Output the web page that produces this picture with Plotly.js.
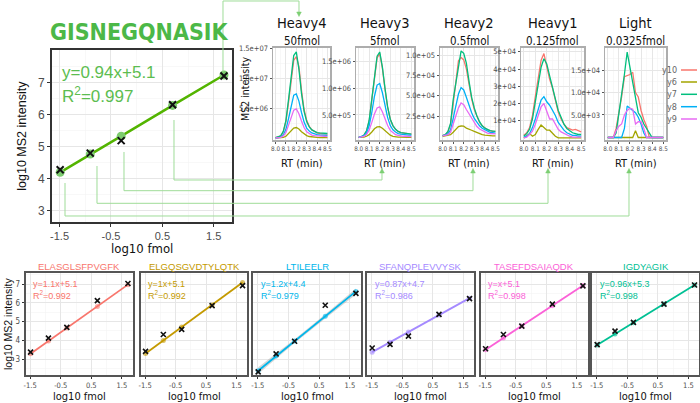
<!DOCTYPE html>
<html><head><meta charset="utf-8">
<script src="https://cdn.plot.ly/plotly-3.0.1.min.js"></script>
<style>html,body{margin:0;padding:0;background:#fff}#chart{width:700px;height:403px}</style>
</head><body><div id="chart"></div>
<script>
// ---------------- DATA ----------------
const log10fmol = [-1.488, -0.903, -0.301, 0.699, 1.699];
const mainPeptide = 'GISNEGQNASIK';
const mainMeasured = [4.28, 4.80, 5.19, 6.31, 7.21];
const mainFit = [4.20, 4.77, 5.33, 6.29, 7.24];
const mainEq = 'y=0.94x+5.1';
const mainR2 = '0.997';

const rt = [8.000,8.025,8.050,8.075,8.100,8.125,8.150,8.175,8.200,8.225,8.250,8.275,8.300,8.325,8.350,8.375,8.400,8.425,8.450,8.475,8.500];
const ions = ['y10','y6','y7','y8','y9'];
const ionColors = ['#F8766D','#A3A500','#00BF7D','#00B0F6','#E76BF3'];
const panelNames = ['Heavy4','Heavy3','Heavy2','Heavy1','Light'];
const panelAmounts = ['50fmol','5fmol','0.5fmol','0.125fmol','0.0325fmol'];

// each panel: rows in ion order y10, y6, y7, y8, y9
const heavy4 = [
 [1e5,2e5,4e5,1.1e6,2.8e6,6e6,9.5e6,1.3e7,1.36e7,1.2e7,8e6,4.8e6,3e6,2e6,1.4e6,1.1e6,9e5,8e5,7.5e5,7e5,7e5],
 [2e4,4e4,8e4,1.5e5,3.5e5,8e5,1.3e6,1.7e6,1.8e6,1.55e6,1.1e6,7e5,4.5e5,3e5,2.2e5,1.8e5,1.5e5,1.3e5,1.2e5,1.1e5,1e5],
 [1e5,2e5,4e5,1.2e6,3e6,6.5e6,1.0e7,1.38e7,1.44e7,1.15e7,7.5e6,4.5e6,2.8e6,1.9e6,1.4e6,1.1e6,9.5e5,9e5,8.5e5,8.3e5,8e5],
 [5e4,1e5,2e5,6e5,1.5e6,3.3e6,5.3e6,7.2e6,7.4e6,6.2e6,4.3e6,2.7e6,1.7e6,1.2e6,9e5,7e5,6e5,5.5e5,5.5e5,5e5,5e5],
 [5e4,1e5,1.5e5,4e5,1e6,2.2e6,3.5e6,4.7e6,4.9e6,4.1e6,2.9e6,1.8e6,1.1e6,7.5e5,5.5e5,4.5e5,4e5,3.5e5,3.5e5,3e5,3e5]
];
const heavy3 = [
 [8e4,9e4,1.2e5,2e5,3.9e5,7.8e5,1.22e6,1.57e6,1.65e6,1.38e6,9.8e5,6.4e5,4.2e5,3e5,2.3e5,1.9e5,1.7e5,1.6e5,1.5e5,1.45e5,1.4e5],
 [8e4,8e4,8.5e4,1e5,1.3e5,1.8e5,2.4e5,2.75e5,2.8e5,2.5e5,2e5,1.5e5,1.2e5,1e5,9e4,8.5e4,8.5e4,8e4,8e4,8e4,8e4],
 [8e4,9e4,1.2e5,2e5,4e5,8e5,1.25e6,1.6e6,1.68e6,1.4e6,1e6,6.5e5,4.2e5,3e5,2.3e5,1.9e5,1.7e5,1.6e5,1.5e5,1.45e5,1.4e5],
 [8e4,9e4,1.1e5,1.6e5,3e5,5.5e5,8.5e5,1.06e6,1.09e6,9.2e5,6.7e5,4.5e5,3e5,2.2e5,1.8e5,1.5e5,1.4e5,1.3e5,1.25e5,1.2e5,1.2e5],
 [8e4,8.5e4,1e5,1.3e5,2.2e5,3.6e5,5.2e5,6.3e5,6.5e5,5.6e5,4.2e5,3e5,2.1e5,1.6e5,1.3e5,1.15e5,1.05e5,1e5,1e5,1e5,9.5e4]
];
const heavy2 = [
 [1e3,2e3,5e3,1.5e4,4e4,7e4,9.3e4,9.7e4,9.4e4,8.3e4,6.4e4,4.6e4,3.3e4,2.4e4,1.7e4,1.3e4,1e4,8e3,7e3,6e3,6e3],
 [0,500,1e3,2e3,5e3,9e3,1.2e4,1.27e4,1.25e4,1e4,9e3,7.5e3,6e3,4.5e3,3e3,2e3,1.5e3,1e3,500,500,500],
 [1e3,2e3,6e3,1.6e4,4.5e4,6.5e4,8.5e4,1.05e5,1.02e5,9e4,6.8e4,4.8e4,3.5e4,2.5e4,1.8e4,1.3e4,1e4,8e3,7e3,6.5e3,6e3],
 [1e3,1.5e3,3e3,8e3,2.2e4,3.8e4,5.2e4,6e4,5.7e4,4.8e4,3.8e4,2.9e4,2.2e4,1.7e4,1.3e4,1e4,8e3,6e3,5e3,4.5e3,4e3],
 [500,1e3,2e3,5e3,1.5e4,2.6e4,3.5e4,4.1e4,3.9e4,3.3e4,2.8e4,2.2e4,1.7e4,1.2e4,9e3,7e3,5e3,4e3,3.5e3,3e3,3e3]
];
const heavy1 = [
 [1500,3000,6000,13000,24000,36000,45000,49000,42000,34000,29000,22000,15000,11000,8000,6000,5000,4500,5000,4000,3500],
 [0,1000,2500,1000,2000,5000,7500,6000,4500,4500,2500,1000,0,0,0,0,0,0,0,0,0],
 [1000,2500,5000,11000,21000,32000,41000,46000,43000,36000,29000,22000,16000,12000,8000,5500,4000,3000,2500,2000,2000],
 [500,1000,2500,6000,11000,17000,22000,24000,21000,19000,16000,13000,9000,6500,4500,3000,2000,1500,1500,1000,1000],
 [0,500,2000,4000,8000,13000,18000,20000,16000,11000,11000,8000,5000,3500,2500,1500,1000,500,500,500,500]
];
const light = [
 [0,0,0,2000,5500,9000,13500,13800,14000,14500,10000,9000,6000,4000,2500,0,0,0,0,0,0],
 [0,0,0,0,0,0,0,0,0,0,1500,0,0,0,0,0,0,0,0,0,0],
 [0,0,0,1000,5000,9500,14000,19000,15500,12000,9000,5500,4500,3000,2000,1000,0,0,0,0,0],
 [0,0,0,0,0,0,2000,7000,6500,6000,5500,4500,3000,1000,0,0,0,0,0,0,0],
 [0,0,0,1500,2500,3000,5000,6000,6500,6300,3000,3500,3500,2000,0,0,0,0,0,0,0]
];
const panelData = [heavy4, heavy3, heavy2, heavy1, light];
const panelTickVals = [[5e6,1e7,1.5e7],[5e5,1e6,1.5e6],[2.5e4,5e4,7.5e4,1e5],[1e4,2e4,3e4,4e4,5e4],[5e3,1e4,1.5e4]];
const panelTickText = [['5.0e+06','1.0e+07','1.5e+07'],['5.0e+05','1.0e+06','1.5e+06'],['2.5e+04','5.0e+04','7.5e+04','1.0e+05'],['1e+04','2e+04','3e+04','4e+04','5e+04'],['5.0e+03','1.0e+04','1.5e+04']];
const rtTicks = [8.0,8.1,8.2,8.3,8.4,8.5];
const rtTickText = ['8.0','8.1','8.2','8.3','8.4','8.5'];

const peptides = ['ELASGLSFPVGFK','ELGQSGVDTYLQTK','LTILEELR','SFANQPLEVVYSK','TASEFDSAIAQDK','IGDYAGIK'];
const pepColors = ['#F8766D','#C49A00','#00B6EB','#A58AFF','#FB61D7','#00C094'];
const pepEq = ['y=1.1x+5.1','y=1x+5.1','y=1.2x+4.4','y=0.87x+4.7','y=x+5.1','y=0.96x+5.3'];
const pepR2 = ['0.992','0.992','0.979','0.986','0.998','0.998'];
const pepMeasured = [
 [3.37,4.12,4.69,6.12,7.03],
 [3.41,4.31,4.58,5.85,6.92],
 [2.32,3.28,3.95,5.87,6.50],
 [3.59,3.78,4.22,5.38,6.22],
 [3.55,4.31,4.76,5.93,6.90],
 [3.77,4.49,4.96,5.93,6.95]
];
const pepFit = [
 [3.28,3.96,4.66,5.81,6.97],
 [3.30,3.99,4.71,5.89,7.08],
 [2.38,3.16,3.96,5.28,6.61],
 [3.37,3.90,4.44,5.35,6.25],
 [3.50,4.13,4.77,5.84,6.92],
 [3.75,4.34,4.94,5.94,6.95]
];
const ltiBandLow = [2.20,3.03,3.86,5.17,6.45];
const ltiBandHigh = [2.56,3.29,4.06,5.39,6.77];
const fmolTicks = [-1.5,-0.5,0.5,1.5];
const fmolTickText = ['-1.5','-0.5','0.5','1.5'];
const intTicks = [3,4,5,6,7];

// ---------------- STYLE / LAYOUT ----------------
const W=700,H=403;
const px=x=>x/W, py=y=>1-y/H;
const NARROW='"Liberation Sans Narrow","Arial Narrow","DejaVu Sans Condensed",sans-serif';
const SANS='"Liberation Sans",Arial,sans-serif';
const GREEN='#53B400', GREEN_TXT='#5cbd50', CONN='#9fdc98', ARROW='#7ccf73';
const GRID='#e6e6e6', MINOR='#f3f3f3', TICKC='#4d4d4d';

const traces=[];
const layout={width:W,height:H,margin:{l:0,r:0,t:0,b:0},paper_bgcolor:'#fff',plot_bgcolor:'#fff',
  showlegend:false,annotations:[],shapes:[]};

function ann(text,x,y,font,extra){
  layout.annotations.push(Object.assign({text:text,x:px(x),y:py(y),xref:'paper',yref:'paper',
    showarrow:false,xanchor:'center',yanchor:'middle',font:font},extra||{}));
}
function axis(domain,range,tv,tt,minor,o){
  return Object.assign({domain:domain,range:range,tickmode:'array',tickvals:tv,ticktext:tt,tickangle:0,
    showgrid:true,gridcolor:GRID,gridwidth:1,zeroline:false,showline:true,mirror:true,
    ticks:'outside',ticklen:3,tickcolor:'#333',
    minor:{tickmode:'array',tickvals:minor,showgrid:true,gridcolor:MINOR,gridwidth:0.6,ticks:''}},o||{});
}

// ---- main panel ----
const mL=52,mR=232,mT=50,mB=221.7;
layout.xaxis=axis([px(mL),px(mR)],[-1.647,1.855],fmolTicks,fmolTickText,[-1,0,1],
  {anchor:'y',linecolor:'#333',linewidth:2,tickfont:{family:SANS,size:11,color:TICKC}});
layout.yaxis=axis([py(mB),py(mT)],[2.66,8.02],intTicks,intTicks.map(String),[3.5,4.5,5.5,6.5,7.5],
  {anchor:'x',linecolor:'#333',linewidth:2,tickfont:{family:SANS,size:12,color:TICKC}});
traces.push({x:log10fmol,y:mainFit,mode:'lines+markers',xaxis:'x',yaxis:'y',
  line:{color:GREEN,width:2.5},marker:{color:'#7dcc6f',size:9},hoverinfo:'skip'});
traces.push({x:log10fmol,y:mainMeasured,mode:'markers',xaxis:'x',yaxis:'y',
  marker:{symbol:'x-thin',size:7,color:'#111',line:{color:'#111',width:2}}});
ann('<b>'+mainPeptide+'</b>',139,32,{family:NARROW,size:23,color:'#4cb847'});
ann(mainEq,60,72,{family:SANS,size:17,color:GREEN_TXT},{xanchor:'left'});
ann('R<sup>2</sup>='+mainR2,60,95,{family:SANS,size:17,color:GREEN_TXT},{xanchor:'left'});
ann('log10 MS2 intensity',21.7,136,{family:SANS,size:12.5,color:'#111'},{textangle:-90});
ann('log10 fmol',142,248,{family:NARROW,size:13,color:'#111'});

// ---- top chromatogram panels ----
const tL=[273,356,440,521,605], tR=[330,414,498,584,666], tT=47.7, tB=140;
const yRanges=[[-2.8e5,1.51e7],[3e4,1.76e6],[-4.5e3,1.09e5],[-1.2e3,5.24e4],[-560,1.996e4]];
const yMinor=[[2.5e6,7.5e6,1.25e7],[2.5e5,7.5e5,1.25e6],[1.25e4,3.75e4,6.25e4,8.75e4],[5e3,1.5e4,2.5e4,3.5e4,4.5e4],[2.5e3,7.5e3,1.25e4,1.75e4]];
for(let p=0;p<5;p++){
  const n=p+2;
  layout['xaxis'+n]=axis([px(tL[p]),px(tR[p])],[7.975,8.525],rtTicks,rtTickText,[8.05,8.15,8.25,8.35,8.45],
    {anchor:'y'+n,linecolor:'#adadad',linewidth:1.5,ticklen:2,tickcolor:'#555',
     tickfont:{family:NARROW,size:6.3,color:TICKC}});
  layout['yaxis'+n]=axis([py(tB),py(tT)],yRanges[p],panelTickVals[p],panelTickText[p],yMinor[p],
    {anchor:'x'+n,linecolor:'#adadad',linewidth:1.5,ticklen:2,tickcolor:'#555',
     tickfont:{family:NARROW,size:7.5,color:TICKC}});
  for(let i=0;i<ions.length;i++){
    traces.push({x:rt,y:panelData[p][i],mode:'lines',xaxis:'x'+n,yaxis:'y'+n,
      line:{color:ionColors[i],width:1.3},hoverinfo:'skip'});
  }
  const cx=(tL[p]+tR[p])/2;
  ann(panelNames[p],cx,23.3,{family:NARROW,size:14.5,color:'#111'});
  ann(panelAmounts[p],cx,40.7,{family:NARROW,size:11.5,color:'#111'});
  ann('RT (min)',cx,163.3,{family:NARROW,size:11,color:'#111'});
}
ann('MS2 intensity',245,88,{family:NARROW,size:10.5,color:'#111'},{textangle:-90});
// legend
const legY=[70,82,94.3,106.7,119];
for(let i=0;i<ions.length;i++){
  ann(ions[i],679,legY[i],{family:NARROW,size:9,color:'#666'},{xanchor:'right'});
  layout.shapes.push({type:'line',xref:'paper',yref:'paper',x0:px(681),x1:px(697),y0:py(legY[i]),y1:py(legY[i]),
    line:{color:ionColors[i],width:1.5}});
}

// ---- bottom calibration panels ----
const bL=[25.7,140.7,253.3,367.3,480.7,592.3], bR=[132.7,247.3,360.7,474.3,587.7,699.3], bT=273, bB=375;
for(let k=0;k<6;k++){
  const n=k+7;
  layout['xaxis'+n]=axis([px(bL[k]),px(bR[k])],[-1.647,1.855],fmolTicks,fmolTickText,[-1,0,1],
    {anchor:'y'+n,linecolor:'#555',linewidth:2,ticklen:2,tickfont:{family:NARROW,size:7.5,color:TICKC}});
  layout['yaxis'+n]=axis([py(bB),py(bT)],[2.15,7.59],intTicks,intTicks.map(String),[2.5,3.5,4.5,5.5,6.5,7.5],
    {anchor:'x'+n,linecolor:'#555',linewidth:2,ticklen:k===0?2:0,ticks:k===0?'outside':'',showticklabels:k===0,
     tickfont:{family:NARROW,size:8,color:TICKC}});
  if(k===2){
    traces.push({x:log10fmol,y:ltiBandLow,mode:'lines',line:{width:0},xaxis:'x'+n,yaxis:'y'+n,hoverinfo:'skip'});
    traces.push({x:log10fmol,y:ltiBandHigh,mode:'lines',line:{width:0},fill:'tonexty',
      fillcolor:'rgba(140,140,140,0.35)',xaxis:'x'+n,yaxis:'y'+n,hoverinfo:'skip'});
  }
  traces.push({x:log10fmol,y:pepFit[k],mode:'lines+markers',xaxis:'x'+n,yaxis:'y'+n,
    line:{color:pepColors[k],width:1.8},marker:{color:pepColors[k],size:5,opacity:0.6},hoverinfo:'skip'});
  traces.push({x:log10fmol,y:pepMeasured[k],mode:'markers',xaxis:'x'+n,yaxis:'y'+n,
    marker:{symbol:'x-thin',size:5,color:'#111',line:{color:'#111',width:1.6}}});
  const cx=(bL[k]+bR[k])/2;
  ann(peptides[k],cx,266.7,{family:SANS,size:9.5,color:pepColors[k]});
  ann(pepEq[k],bL[k]+5.5,283.5,{family:SANS,size:9,color:pepColors[k]},{xanchor:'left'});
  ann('R<sup>2</sup>='+pepR2[k],bL[k]+5.5,294.5,{family:SANS,size:9,color:pepColors[k]},{xanchor:'left'});
  ann('log10 fmol',cx,396.5,{family:NARROW,size:11,color:'#111'});
}
ann('log10 MS2 intensity',8,324,{family:SANS,size:10.5,color:'#111'},{textangle:-90});

// ---- connector arrows ----
const conns=[
  [[223,72],[223,1],[299,1],[299,13]],
  [[174,120],[174,180],[382,180],[382,172]],
  [[124,152],[124,190.7],[473,190.7],[473,172]],
  [[97,166],[97,203.3],[548,203.3],[548,172]],
  [[65,183],[65,216],[629,216],[629,172]]
];
conns.forEach((c,idx)=>{
  const path=c.map((p,i)=>(i?'L':'M')+px(p[0]).toFixed(5)+','+py(p[1]).toFixed(5)).join(' ');
  layout.shapes.push({type:'path',xref:'paper',yref:'paper',path:path,line:{color:CONN,width:1}});
  const t=c[c.length-1], d=idx===0?1:-1; // arrow direction (+1 down, -1 up)
  const tipY=t[1]+d*3.5, baseY=t[1]-d*1;
  const tri='M'+px(t[0]).toFixed(5)+','+py(tipY).toFixed(5)+
    ' L'+px(t[0]-2.3).toFixed(5)+','+py(baseY).toFixed(5)+
    ' L'+px(t[0]+2.3).toFixed(5)+','+py(baseY).toFixed(5)+' Z';
  layout.shapes.push({type:'path',xref:'paper',yref:'paper',path:tri,fillcolor:ARROW,line:{color:ARROW,width:0.5}});
});

Plotly.newPlot('chart',traces,layout,{staticPlot:true,displayModeBar:false});
</script></body></html>
